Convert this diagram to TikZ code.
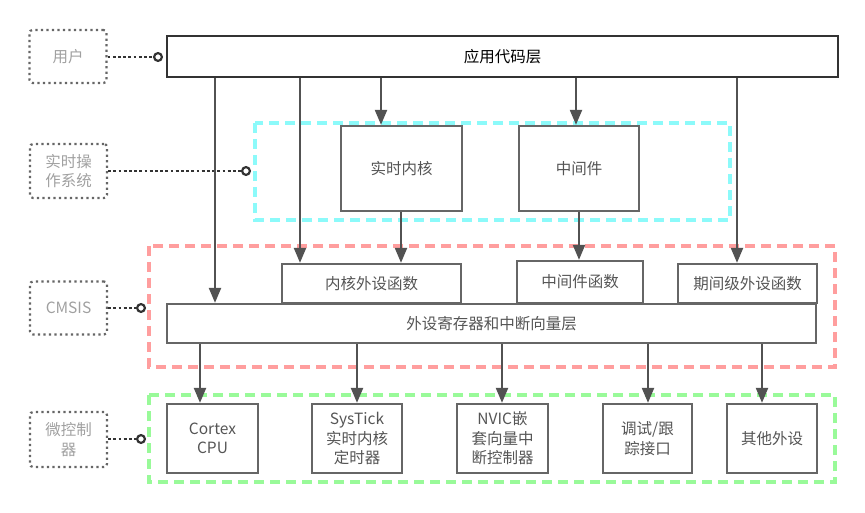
\documentclass[tikz,border=0pt]{standalone}
\usepackage{fontspec}
\setmainfont{Noto Sans CJK SC}
\usetikzlibrary{arrows.meta}
\definecolor{boxline}{HTML}{666666}
\definecolor{darkline}{HTML}{333333}
\definecolor{txt}{HTML}{555555}
\definecolor{lbl}{HTML}{A0A0A0}
\definecolor{cyanc}{HTML}{8CFAFA}
\definecolor{pinkc}{HTML}{FF9E9E}
\definecolor{greenc}{HTML}{99FA99}
\tikzset{
  box/.style={draw=boxline, line width=2.3pt, fill=white, text=txt, align=center,
    inner sep=0pt, font=\fontsize{15.5}{19.5}\selectfont},
  labelbox/.style={draw=boxline, line width=2.2pt, dash pattern=on 2.2pt off 3.3pt,
    rounded corners=3pt, text=lbl, align=center, inner sep=0pt,
    minimum width=77pt, font=\fontsize{15.5}{19.5}\selectfont},
  conn/.style={draw=darkline, line width=2.6pt, dash pattern=on 2.8pt off 2.4pt,
    -{Circle[open,length=10pt,width=10pt,fill=white,line width=2.2pt]}},
  arr/.style={draw=darkline!85!white, line width=2.2pt, -{Triangle[length=15pt,width=12pt]}},
  container/.style={line width=3.2pt, dash pattern=on 10pt off 6pt},
}
\begin{document}
\begin{tikzpicture}[x=1pt,y=-1pt]
\useasboundingbox (0,0) rectangle (865,513);
% containers
\draw[container, draw=cyanc] (255,123) rectangle (730,220);
\draw[container, draw=pinkc] (149,246) rectangle (835,367);
\draw[container, draw=greenc] (149,395) rectangle (835,482);

% side labels
\node[labelbox, minimum height=53pt] (user) at (68,56.5) {用户};
\node[labelbox, minimum height=54pt] (rtos) at (68.5,171) {实时操\\作系统};
\node[labelbox, minimum height=53pt] (cmsis) at (68.5,308) {CMSIS};
\node[labelbox, minimum height=55pt] (mcu) at (68.5,439.5) {微控制\\器};

% main boxes
\node[box, draw=darkline, line width=2.5pt, text=black, minimum width=671pt, minimum height=41pt] (app) at (502.5,56.5) {应用代码层};
\node[box, minimum width=121pt, minimum height=85pt] (kernel) at (401.5,168.5) {实时内核};
\node[box, minimum width=120pt, minimum height=85pt] (mid) at (579,168.5) {中间件};
\node[box, minimum width=649pt, minimum height=39pt] (reg) at (491.5,323.5) {外设寄存器和中断向量层};
\node[box, minimum width=179pt, minimum height=39pt] (kfunc) at (371.5,283.5) {内核外设函数};
\node[box, minimum width=126pt, minimum height=42pt] (mfunc) at (580,282) {中间件函数};
\node[box, minimum width=139pt, minimum height=39pt] (pfunc) at (747.5,283.5) {期间级外设函数};

\node[box, minimum width=91pt, minimum height=69pt] (cpu) at (212.5,438.5) {Cortex\\CPU};
\node[box, minimum width=90pt, minimum height=69pt] (systick) at (357,438.5) {SysTick\\实时内核\\定时器};
\node[box, minimum width=91pt, minimum height=69pt] (nvic) at (502.5,438.5) {NVIC嵌\\套向量中\\断控制器};
\node[box, minimum width=89pt, minimum height=69pt] (debug) at (647.5,438.5) {调试/跟\\踪接口};
\node[box, minimum width=90pt, minimum height=69pt] (other) at (772,438.5) {其他外设};

% connectors from labels
\coordinate (uc) at (163,57);
\coordinate (rc) at (251,171);
\coordinate (cc) at (146,308);
\coordinate (mc) at (146,439);
\draw[conn] (user.east |- uc) -- (uc);
\draw[conn] (rtos.east |- rc) -- (rc);
\draw[conn] (cmsis.east |- cc) -- (cc);
\draw[conn] (mcu.east |- mc) -- (mc);

% arrows from application layer
\draw[arr] (app.south -| 215,0) -- (reg.north -| 215,0);
\draw[arr] (app.south -| 300,0) -- (kfunc.north -| 300,0);
\draw[arr] (app.south -| 381,0) -- (kernel.north -| 381,0);
\draw[arr] (app.south -| 576,0) -- (mid.north -| 576,0);
\draw[arr] (app.south -| 737,0) -- (pfunc.north -| 737,0);

% arrows from RTOS
\draw[arr] (kernel.south -| 401,0) -- (kfunc.north -| 401,0);
\draw[arr] (mid.south -| 579,0) -- (mfunc.north -| 579,0);

% arrows from register layer
\draw[arr] (reg.south -| 200,0) -- (cpu.north -| 200,0);
\draw[arr] (reg.south -| 357,0) -- (systick.north -| 357,0);
\draw[arr] (reg.south -| 502,0) -- (nvic.north -| 502,0);
\draw[arr] (reg.south -| 648,0) -- (debug.north -| 648,0);
\draw[arr] (reg.south -| 762,0) -- (other.north -| 762,0);
\end{tikzpicture}
\end{document}
